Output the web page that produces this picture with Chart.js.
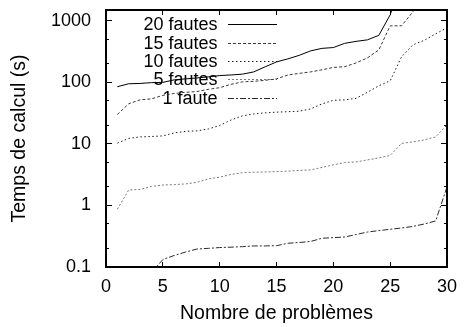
<!DOCTYPE html>
<html><head><meta charset="utf-8">
<script src="https://cdn.jsdelivr.net/npm/chart.js@4/dist/chart.umd.min.js"></script>
<style>html,body{margin:0;padding:0;background:#fff}#wrap{width:464px;height:327px;position:relative}#frame{position:absolute;border:2px solid #000;box-sizing:border-box;pointer-events:none;display:none}</style>
</head><body><div id="wrap"><canvas id="c"></canvas><div id="frame"></div></div>
<script>
const problems = [1,2,3,4,5,6,7,8,9,10,11,12,13,14,15,16,17,18,19,20,21,22,23,24,25,26,27,28,29,30];
const faults20 = [85,95,96,99,100,110,114,118,123,129,132,136,148,179,215,241,275,325,357,368,431,464,491,581,1250,4400,null,null,null,null];
const faults15 = [30,45,52,54,61.5,66,69,71,77,82,93,102,104,108,114,132,140,148,160,175,180,207,250,337,830,830,1400,6000,null,null];
const faults10 = [10.3,12.3,13.0,13.2,13.5,15.1,16,16.3,17.5,19.9,24.5,28.5,30.7,32,32.8,33.4,34,37,44.7,51,52,55,69,88,106,260,407,482,615,770];
const faults5 = [0.87,1.79,1.82,2.04,2.15,2.18,2.24,2.37,2.70,2.88,3.19,3.41,3.47,3.5,3.55,3.61,3.71,3.78,4.15,4.56,5.0,5.1,5.5,5.92,6.5,10.2,10.8,11.6,13,20.4];
const faults1 = [null,null,null,0.081,0.132,0.154,0.175,0.196,0.201,0.207,0.21,0.214,0.22,0.22,0.222,0.243,0.25,0.26,0.293,0.30,0.307,0.337,0.37,0.39,0.41,0.43,0.456,0.5,0.56,2.0];
const seriesLabels = ['20 fautes','15 fautes','10 fautes','5 fautes','1 faute'];
const yMajorTicks = [0.1,1,10,100,1000];
const yMajorLabels = ['0.1','1','10','100','1000'];
const yMinorTicks = [0.2,0.5,2,5,20,50,200,500];
const xTicks = [0,5,10,15,20,25,30];

const FONT = 'Liberation Sans, Arial, Helvetica, sans-serif';
const toPts = arr => problems.map((x,i)=>({x:x,y:arr[i]}));

const styles = [
  {color:'#000000', dash:[]},
  {color:'#3a3a3a', dash:[3,2]},
  {color:'#1a1a1a', dash:[1.5,2.5]},
  {color:'#7a7a7a', dash:[2,2]},
  {color:'#2a2a2a', dash:[6,2,2,2]}
];
const allSeries = [faults20,faults15,faults10,faults5,faults1];

const datasets = allSeries.map((arr,i)=>({
  label: seriesLabels[i],
  data: toPts(arr),
  borderColor: styles[i].color,
  borderDash: styles[i].dash,
  borderWidth: 1,
  pointRadius: 0,
  tension: 0,
  fill: false,
  spanGaps: false
}));

const keyPlugin = {
  id: 'gnuKey',
  beforeDatasetsDraw(chart) {
    const ctx = chart.ctx;
    const rows = [24, 42.6, 61, 79.4, 98.2];
    ctx.save();
    ctx.font = '18px ' + FONT;
    ctx.fillStyle = '#000';
    ctx.textAlign = 'right';
    ctx.textBaseline = 'middle';
    chart.data.datasets.forEach((ds,i)=>{
      const y = rows[i];
      ctx.fillText(ds.label, 217.5, y+1);
      ctx.beginPath();
      ctx.setLineDash(styles[i].dash);
      ctx.strokeStyle = styles[i].color;
      ctx.lineWidth = 1;
      ctx.moveTo(228, Math.round(y)+0.5);
      ctx.lineTo(277, Math.round(y)+0.5);
      ctx.stroke();
    });
    ctx.restore();
  }
};

// frame overlay placed from the chart's own computed plot area
const framePlugin = {
  id: 'gnuFrame',
  afterDraw(chart) {
    const a = chart.chartArea;
    const f = document.getElementById('frame');
    f.style.left = (a.left - 1) + 'px';
    f.style.top = (a.top - 1) + 'px';
    f.style.width = (a.right - a.left + 2) + 'px';
    f.style.height = (a.bottom - a.top + 2) + 'px';
    f.style.display = 'block';
  }
};

const tickFont = {family: FONT, size: 18, lineHeight: 1.2};
const titleFont = {family: FONT, size: 19.5, lineHeight: 1.2};
const gridIn = (len)=>({display:true, drawOnChartArea:false, drawTicks:true, tickLength:len, color:'#000', lineWidth:1});
const noPadX = s => { s.paddingLeft = 0; s.paddingRight = 0; };
const noPadY = s => { s.paddingTop = 0; s.paddingBottom = 0; };
const logRange = {type:'logarithmic', min:0.1, max:1500};

new Chart(document.getElementById('c'), {
  type: 'line',
  data: { datasets },
  plugins: [keyPlugin, framePlugin],
  options: {
    responsive: true,
    maintainAspectRatio: false,
    animation: false,
    layout: {padding: 0},
    plugins: { legend: {display:false}, tooltip: {enabled:false} },
    scales: {
      x: {
        type:'linear', position:'bottom', min:0, max:30, weight:1,
        afterBuildTicks(s){ s.ticks = xTicks.map(v=>({value:v})); },
        ticks:{font:tickFont, color:'#000', padding:14, maxRotation:0, callback:v=>String(v)},
        grid: gridIn(-5),
        border:{display:true, width:2, color:'#000'},
        title:{display:true, text:'Nombre de problèmes', font:titleFont, color:'#000', padding:{top:0,bottom:2}},
        afterFit(s){ s.height = 60; noPadX(s); }
      },
      xTop: {
        type:'linear', position:'top', min:0, max:30, weight:1,
        afterBuildTicks(s){ s.ticks = xTicks.map(v=>({value:v})); },
        ticks:{display:false},
        grid: gridIn(-5),
        border:{display:true, width:2, color:'#000'},
        afterFit(s){ s.height = 10; noPadX(s); }
      },
      y: Object.assign({}, logRange, {
        position:'left', weight:1,
        afterBuildTicks(s){ s.ticks = yMajorTicks.map(v=>({value:v})); },
        ticks:{font:{family: FONT, size: 18, lineHeight: 1}, color:'#000', padding:21,
               callback:(v)=>{const k=yMajorTicks.indexOf(v); return k>=0?yMajorLabels[k]:'';}},
        grid: gridIn(-6),
        border:{display:true, width:2, color:'#000'},
        title:{display:true, text:'Temps de calcul (s)', font:titleFont, color:'#000', padding:{top:8,bottom:0}},
        afterFit(s){ s.width = 106; noPadY(s); }
      }),
      yMinor: Object.assign({}, logRange, {
        position:'left', weight:0,
        afterBuildTicks(s){ s.ticks = yMinorTicks.map(v=>({value:v})); },
        ticks:{display:false},
        grid: gridIn(-3),
        border:{display:false},
        afterFit(s){ s.width = 0; noPadY(s); }
      }),
      yRight: Object.assign({}, logRange, {
        position:'right', weight:1,
        afterBuildTicks(s){ s.ticks = yMajorTicks.map(v=>({value:v})); },
        ticks:{display:false},
        grid: gridIn(-6),
        border:{display:true, width:2, color:'#000'},
        afterFit(s){ s.width = 17; noPadY(s); }
      }),
      yRightMinor: Object.assign({}, logRange, {
        position:'right', weight:0,
        afterBuildTicks(s){ s.ticks = yMinorTicks.map(v=>({value:v})); },
        ticks:{display:false},
        grid: gridIn(-3),
        border:{display:false},
        afterFit(s){ s.width = 0; noPadY(s); }
      })
    }
  }
});
</script></body></html>
